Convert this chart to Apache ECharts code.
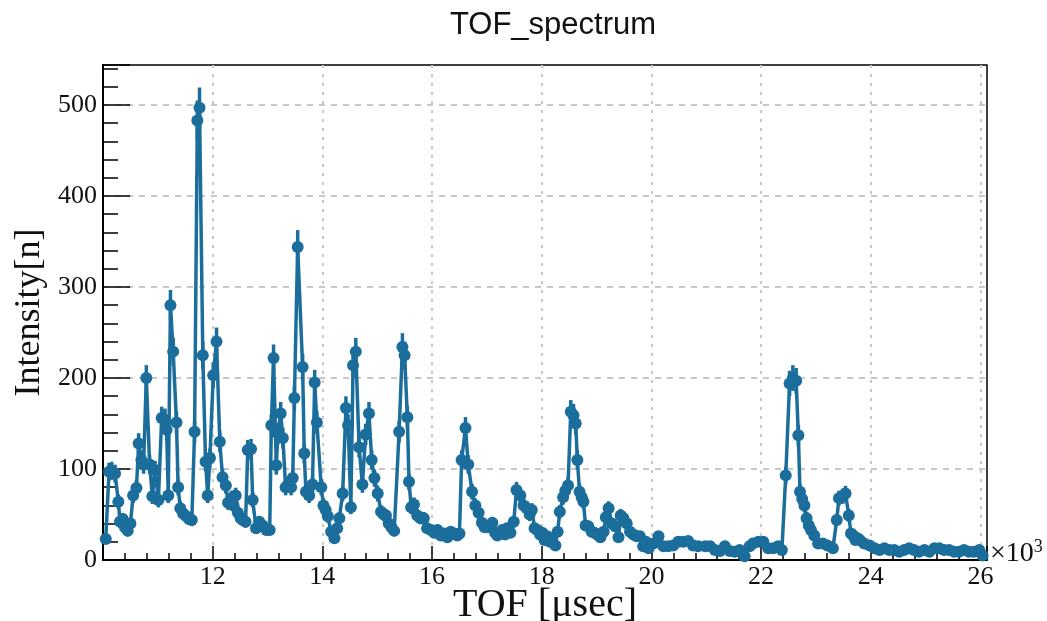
<!DOCTYPE html>
<html>
<head>
<meta charset="utf-8">
<script src="https://cdn.jsdelivr.net/npm/echarts@6/dist/echarts.min.js"></script>
<style>
  html, body { margin: 0; padding: 0; background: #fff; }
  #chart { width: 1047px; height: 621px; }
</style>
</head>
<body>
<div id="chart"></div>
<script>
// TOF in units of 10^3 usec
const tof = [
  10.05, 10.11, 10.16, 10.22, 10.28, 10.31, 10.36, 10.40, 10.45, 10.50,
  10.55, 10.61, 10.65, 10.70, 10.74, 10.79, 10.85, 10.90, 10.95, 11.01,
  11.07, 11.13, 11.16, 11.19, 11.23, 11.28, 11.34, 11.37, 11.41, 11.46,
  11.52, 11.57, 11.62, 11.67, 11.72, 11.76, 11.82, 11.87, 11.91, 11.95,
  12.01, 12.07, 12.13, 12.18, 12.24, 12.28, 12.34, 12.38, 12.42, 12.46,
  12.51, 12.55, 12.60, 12.64, 12.70, 12.73, 12.79, 12.85, 12.91, 12.98,
  13.04, 13.07, 13.11, 13.16, 13.19, 13.24, 13.28, 13.33, 13.38, 13.43,
  13.46, 13.49, 13.55, 13.64, 13.67, 13.70, 13.76, 13.82, 13.86, 13.90,
  13.98, 14.02, 14.06, 14.10, 14.16, 14.22, 14.27, 14.31, 14.37, 14.43,
  14.47, 14.52, 14.56, 14.61, 14.67, 14.73, 14.79, 14.85, 14.90, 14.95,
  15.01, 15.07, 15.12, 15.16, 15.21, 15.26, 15.31, 15.40, 15.46, 15.50,
  15.55, 15.58, 15.62, 15.67, 15.73, 15.79, 15.85, 15.91, 15.98, 16.04,
  16.10, 16.16, 16.22, 16.28, 16.34, 16.40, 16.46, 16.50, 16.54, 16.61,
  16.66, 16.73, 16.79, 16.85, 16.91, 16.96, 17.01, 17.05, 17.10, 17.15,
  17.19, 17.24, 17.28, 17.33, 17.37, 17.43, 17.49, 17.54, 17.61, 17.67,
  17.73, 17.78, 17.82, 17.87, 17.92, 17.97, 18.01, 18.05, 18.10, 18.15,
  18.19, 18.25, 18.29, 18.33, 18.39, 18.43, 18.48, 18.53, 18.58, 18.62,
  18.65, 18.69, 18.73, 18.76, 18.80, 18.85, 18.91, 18.96, 19.01, 19.07,
  19.13, 19.17, 19.22, 19.28, 19.34, 19.40, 19.44, 19.49, 19.55, 19.61,
  19.67, 19.73, 19.79, 19.85, 19.90, 19.95, 20.04, 20.13, 20.22, 20.31,
  20.40, 20.49, 20.58, 20.67, 20.76, 20.85, 20.98, 21.07, 21.16, 21.25,
  21.34, 21.43, 21.52, 21.61, 21.70, 21.79, 21.85, 21.95, 22.04, 22.13,
  22.22, 22.31, 22.38, 22.45, 22.52, 22.58, 22.64, 22.68, 22.71, 22.75,
  22.79, 22.83, 22.87, 22.91, 22.97, 23.04, 23.13, 23.21, 23.31, 23.38,
  23.42, 23.49, 23.54, 23.60, 23.64, 23.68, 23.72, 23.76, 23.80, 23.88,
  23.98, 24.07, 24.16, 24.25, 24.34, 24.43, 24.52, 24.61, 24.70, 24.79,
  24.88, 24.98, 25.07, 25.16, 25.25, 25.34, 25.43, 25.52, 25.61, 25.70,
  25.79, 25.88, 25.98, 26.04
];

const counts = [
  23, 97, 98, 95, 64, 42, 45, 36, 32, 40,
  71, 79, 128, 110, 105, 200, 105, 70, 99, 66,
  156, 154, 143, 71, 280, 229, 151, 80, 57, 51,
  48, 45, 44, 141, 483, 497, 225, 108, 71, 112,
  203, 240, 130, 91, 82, 63, 68, 60, 71, 52,
  46, 44, 42, 121, 122, 66, 35, 42, 38, 33,
  33, 148, 222, 104, 139, 161, 134, 80, 83, 80,
  90, 178, 344, 212, 117, 75, 71, 83, 195, 151,
  80, 60, 55, 48, 31, 24, 35, 46, 73, 167,
  148, 58, 214, 229, 124, 83, 138, 161, 110, 90,
  73, 53, 50, 49, 40, 36, 32, 141, 234, 225,
  157, 86, 58, 61, 49, 46, 46, 35, 33, 30,
  33, 27, 29, 25, 31, 29, 27, 29, 110, 145,
  105, 75, 60, 52, 41, 36, 36, 38, 41, 30,
  27, 30, 33, 28, 35, 30, 42, 77, 71, 60,
  57, 50, 55, 35, 33, 28, 30, 22, 26, 20,
  22, 16, 31, 53, 69, 76, 82, 163, 159, 150,
  110, 75, 69, 64, 38, 37, 31, 30, 28, 25,
  31, 47, 57, 40, 37, 25, 49, 46, 40, 31,
  28, 26, 26, 15, 20, 13, 18, 26, 15, 15,
  16, 20, 20, 21, 16, 15, 15, 15, 11, 10,
  15, 10, 9, 11, 4, 15, 18, 20, 20, 13,
  13, 15, 11, 93, 194, 200, 197, 137, 75, 67,
  60, 46, 38, 33, 27, 18, 18, 16, 13, 44,
  68, 70, 73, 49, 29, 27, 22, 24, 22, 18,
  16, 13, 11, 13, 11, 11, 9, 11, 13, 11,
  9, 11, 9, 13, 13, 11, 11, 9, 9, 11,
  9, 9, 11, 5
];

const yTicks = [0, 100, 200, 300, 400, 500];
const xTicks = [10, 12, 14, 16, 18, 20, 22, 24, 26];

const COLOR = "#1b6e9c";
const SERIF = "Liberation Serif";

const points = tof.map((t, i) => [t, counts[i]]);

const chart = echarts.init(document.getElementById("chart"));

chart.setOption({
  animation: false,
  backgroundColor: "#fff",
  title: {
    text: "TOF_spectrum",
    left: 548,
    textAlign: "center",
    top: 5,
    textStyle: { fontFamily: "Liberation Sans", fontSize: 31, fontWeight: "normal", color: "#111" },
  },
  grid: {
    left: 103,
    right: 60,
    top: 65,
    bottom: 61,
    outerBoundsMode: "none",
    containLabel: false,
    show: true,
    borderColor: "#000",
    borderWidth: 1.5,
    backgroundColor: "transparent",
  },
  xAxis: {
    type: "value",
    min: xTicks[0],
    max: 26.12,
    interval: 2,
    name: "TOF [\u03bcsec]",
    nameLocation: "middle",
    nameGap: 25,
    nameMoveOverlap: false,
    nameTextStyle: { fontFamily: SERIF, fontSize: 40, color: "#111" },
    axisLine: { show: true, lineStyle: { color: "#000", width: 2 } },
    axisTick: { inside: true, length: 14, lineStyle: { color: "#000", width: 1.5 } },
    minorTick: { show: true, splitNumber: 5, length: 7, lineStyle: { color: "#000", width: 1.5 } },
    axisLabel: {
      showMinLabel: false,
      showMaxLabel: false,
      margin: 4,
      fontFamily: SERIF,
      fontSize: 26,
      color: "#111",
    },
    splitLine: {
      show: true,
      showMinLine: false,
      showMaxLine: false,
      lineStyle: { color: "#c8c8c8", type: [3, 6], width: 2 },
    },
  },
  yAxis: {
    type: "value",
    min: yTicks[0],
    max: 544,
    interval: 100,
    name: "Intensity[n]",
    nameLocation: "middle",
    nameGap: 50,
    nameTextStyle: { fontFamily: SERIF, fontSize: 36, color: "#111" },
    axisLine: { show: true, lineStyle: { color: "#000", width: 2 } },
    axisTick: { inside: true, length: 27, lineStyle: { color: "#000", width: 1.5 } },
    minorTick: { show: true, splitNumber: 5, length: 15, lineStyle: { color: "#000", width: 1.5 } },
    axisLabel: {
      showMaxLabel: false,
      margin: 6,
      fontFamily: SERIF,
      fontSize: 26,
      color: "#111",
    },
    splitLine: {
      show: true,
      showMinLine: false,
      showMaxLine: false,
      lineStyle: { color: "#c8c8c8", type: [6, 6], width: 2 },
    },
  },
  graphic: [
    {
      type: "text",
      left: 990,
      top: 538,
      style: {
        text: "{a|\u00d710}{b|3}",
        rich: {
          a: { fontFamily: SERIF, fontSize: 28, fill: "#111" },
          b: { fontFamily: SERIF, fontSize: 18, fill: "#111", verticalAlign: "top", padding: [0, 0, 14, 0] },
        },
      },
    },
  ],
  series: [
    {
      type: "custom",
      name: "errors",
      data: points,
      encode: { x: 0, y: 1 },
      renderItem: (params, api) => {
        const x = api.value(0);
        const y = api.value(1);
        const e = Math.sqrt(y);
        const p1 = api.coord([x, y - e]);
        const p2 = api.coord([x, y + e]);
        return {
          type: "line",
          shape: { x1: p1[0], y1: p1[1], x2: p2[0], y2: p2[1] },
          style: { stroke: COLOR, lineWidth: 3.5 },
        };
      },
      z: 2,
    },
    {
      type: "line",
      name: "TOF_spectrum",
      data: points,
      symbol: "circle",
      symbolSize: 12,
      showAllSymbol: true,
      lineStyle: { color: COLOR, width: 3.5 },
      itemStyle: { color: COLOR },
      z: 3,
    },
  ],
});
</script>
</body>
</html>
